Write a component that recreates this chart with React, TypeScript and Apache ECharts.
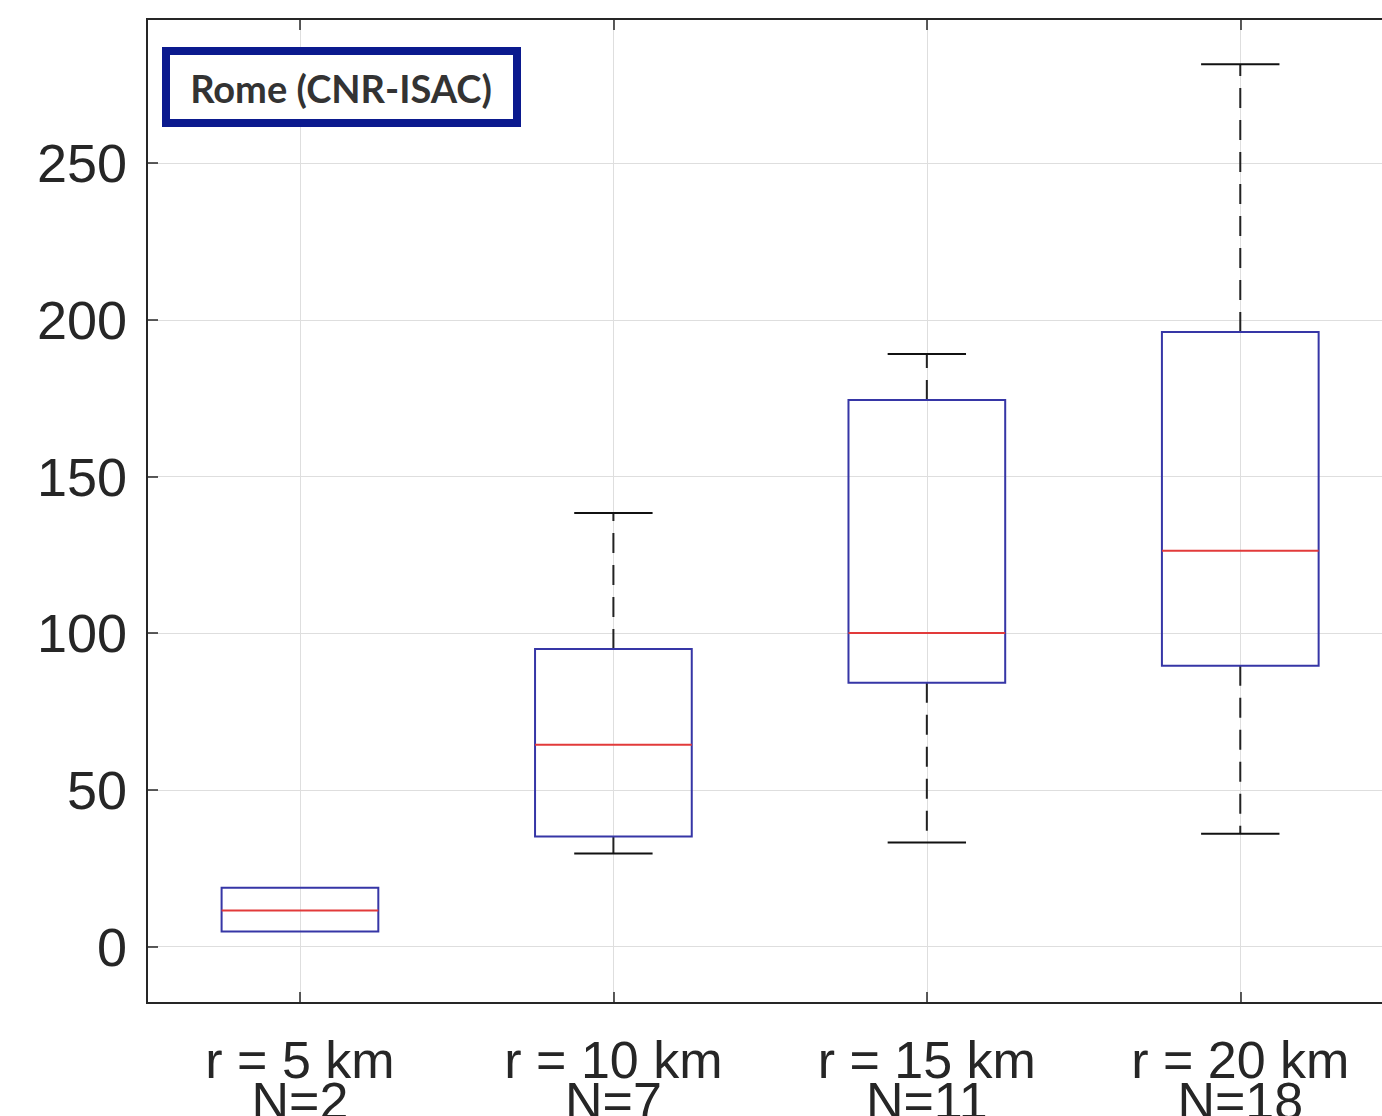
import React, { useEffect, useRef } from "react";
import * as echarts from "echarts";

const categories = ["r = 5 km", "r = 10 km", "r = 15 km", "r = 20 km"];
const counts = ["N=2", "N=7", "N=11", "N=18"];
const positions = [1, 2, 3, 4];
const whiskerLow = [4.8, 29.7, 33.2, 36.0];
const q1 = [4.8, 35.1, 84.2, 89.6];
const median = [11.5, 64.4, 100.1, 126.3];
const q3 = [18.8, 95.0, 174.4, 196.1];
const whiskerHigh = [18.8, 138.4, 189.1, 281.6];
const legendLabel = "Rome (CNR-ISAC)";

const AXIS = "#262626";
const BOX = "#3636a6";
const MED = "#e23a3a";
const GRIDC = "#dedede";

const xLabel = (v: number) => {
  const i = positions.indexOf(Math.round(v * 1000) / 1000);
  return i >= 0 ? categories[i] + "\n" + counts[i] : "";
};

export default function App() {
  const ref = useRef<HTMLDivElement>(null);
  useEffect(() => {
    if (!ref.current) return;
    const chart = echarts.init(ref.current, null, { renderer: "svg" });
    const data = positions.map((p, i) => [p, whiskerLow[i], q1[i], median[i], q3[i], whiskerHigh[i]]);
    const xCommon = {
      type: "value",
      min: 0.512,
      max: 4.5,
      splitNumber: 4,
      minInterval: 1,
    };
    chart.setOption({
      animation: false,
      backgroundColor: "#ffffff",
      grid: {
        left: 147,
        top: 19,
        right: -15,
        bottom: 113,
        containLabel: false,
        outerBoundsMode: "none",
        show: true,
        borderColor: AXIS,
        borderWidth: 2,
        backgroundColor: "transparent",
      },
      xAxis: [
        {
          ...xCommon,
          position: "bottom",
          axisLine: { show: true, onZero: false, lineStyle: { color: AXIS, width: 2 } },
          axisTick: { show: true, inside: true, length: 11, lineStyle: { color: AXIS, width: 1.5 } },
          splitLine: { show: true, lineStyle: { color: GRIDC, width: 1 } },
          axisLabel: {
            color: AXIS,
            fontFamily: "Liberation Sans",
            fontSize: 52,
            lineHeight: 41,
            margin: 36,
            showMinLabel: false,
            showMaxLabel: false,
            formatter: xLabel,
          },
        },
        {
          ...xCommon,
          position: "top",
          axisLine: { show: true, onZero: false, lineStyle: { color: AXIS, width: 2 } },
          axisTick: { show: true, inside: true, length: 11, lineStyle: { color: AXIS, width: 1.5 } },
          splitLine: { show: false },
          axisLabel: { show: false },
        },
      ],
      yAxis: {
        type: "value",
        min: -18,
        max: 296,
        splitNumber: 6,
        axisLine: { show: true, onZero: false, lineStyle: { color: AXIS, width: 2 } },
        axisTick: { show: true, inside: true, length: 11, lineStyle: { color: AXIS, width: 1.5 } },
        splitLine: { show: true, lineStyle: { color: GRIDC, width: 1 } },
        axisLabel: {
          color: AXIS,
          fontFamily: "Liberation Sans",
          fontSize: 54,
          margin: 20,
          showMinLabel: false,
          showMaxLabel: false,
          formatter: (v: number) => (Math.abs(v % 50) < 1e-6 ? String(v) : ""),
        },
      },
      series: [
        {
          type: "custom",
          xAxisIndex: 0,
          data,
          encode: { x: 0, y: [1, 2, 3, 4, 5] },
          renderItem: (params: any, api: any) => {
            const xv = api.value(0);
            const unit = api.size([1, 0])[0];
            const cx = api.coord([xv, 0])[0];
            const yLo = api.coord([xv, api.value(1)])[1];
            const yQ1 = api.coord([xv, api.value(2)])[1];
            const yMed = api.coord([xv, api.value(3)])[1];
            const yQ3 = api.coord([xv, api.value(4)])[1];
            const yHi = api.coord([xv, api.value(5)])[1];
            const bh = unit / 4;
            const ch = unit / 8;
            const children: any[] = [];
            if (yHi < yQ3 - 0.5) {
              children.push({
                type: "line",
                shape: { x1: cx, y1: yQ3, x2: cx, y2: yHi },
                style: { stroke: "#222", lineWidth: 2, lineDash: [20, 12] },
              });
              children.push({
                type: "line",
                shape: { x1: cx - ch, y1: yHi, x2: cx + ch, y2: yHi },
                style: { stroke: "#111", lineWidth: 2 },
              });
            }
            if (yLo > yQ1 + 0.5) {
              children.push({
                type: "line",
                shape: { x1: cx, y1: yQ1, x2: cx, y2: yLo },
                style: { stroke: "#222", lineWidth: 2, lineDash: [20, 12] },
              });
              children.push({
                type: "line",
                shape: { x1: cx - ch, y1: yLo, x2: cx + ch, y2: yLo },
                style: { stroke: "#111", lineWidth: 2 },
              });
            }
            children.push({
              type: "rect",
              shape: { x: cx - bh, y: yQ3, width: 2 * bh, height: yQ1 - yQ3 },
              style: { fill: "none", stroke: BOX, lineWidth: 2 },
            });
            children.push({
              type: "line",
              shape: { x1: cx - bh, y1: yMed, x2: cx + bh, y2: yMed },
              style: { stroke: MED, lineWidth: 2 },
            });
            return { type: "group", children };
          },
        },
      ],
      graphic: [
        {
          type: "rect",
          shape: { x: 166, y: 51, width: 351, height: 72 },
          style: { fill: "#ffffff", stroke: "#0b1a8e", lineWidth: 8 },
          z: 100,
        },
        {
          type: "text",
          x: 341,
          y: 88,
          style: {
            text: legendLabel,
            fill: "#333333",
            font: "bold 38px Lato",
            align: "center",
            verticalAlign: "middle",
          },
          z: 101,
        },
      ],
    });
    return () => chart.dispose();
  }, []);
  return (
    <div
      ref={ref}
      style={{ position: "absolute", left: 0, top: 0, width: 1382, height: 1116, overflow: "hidden" }}
    />
  );
}
